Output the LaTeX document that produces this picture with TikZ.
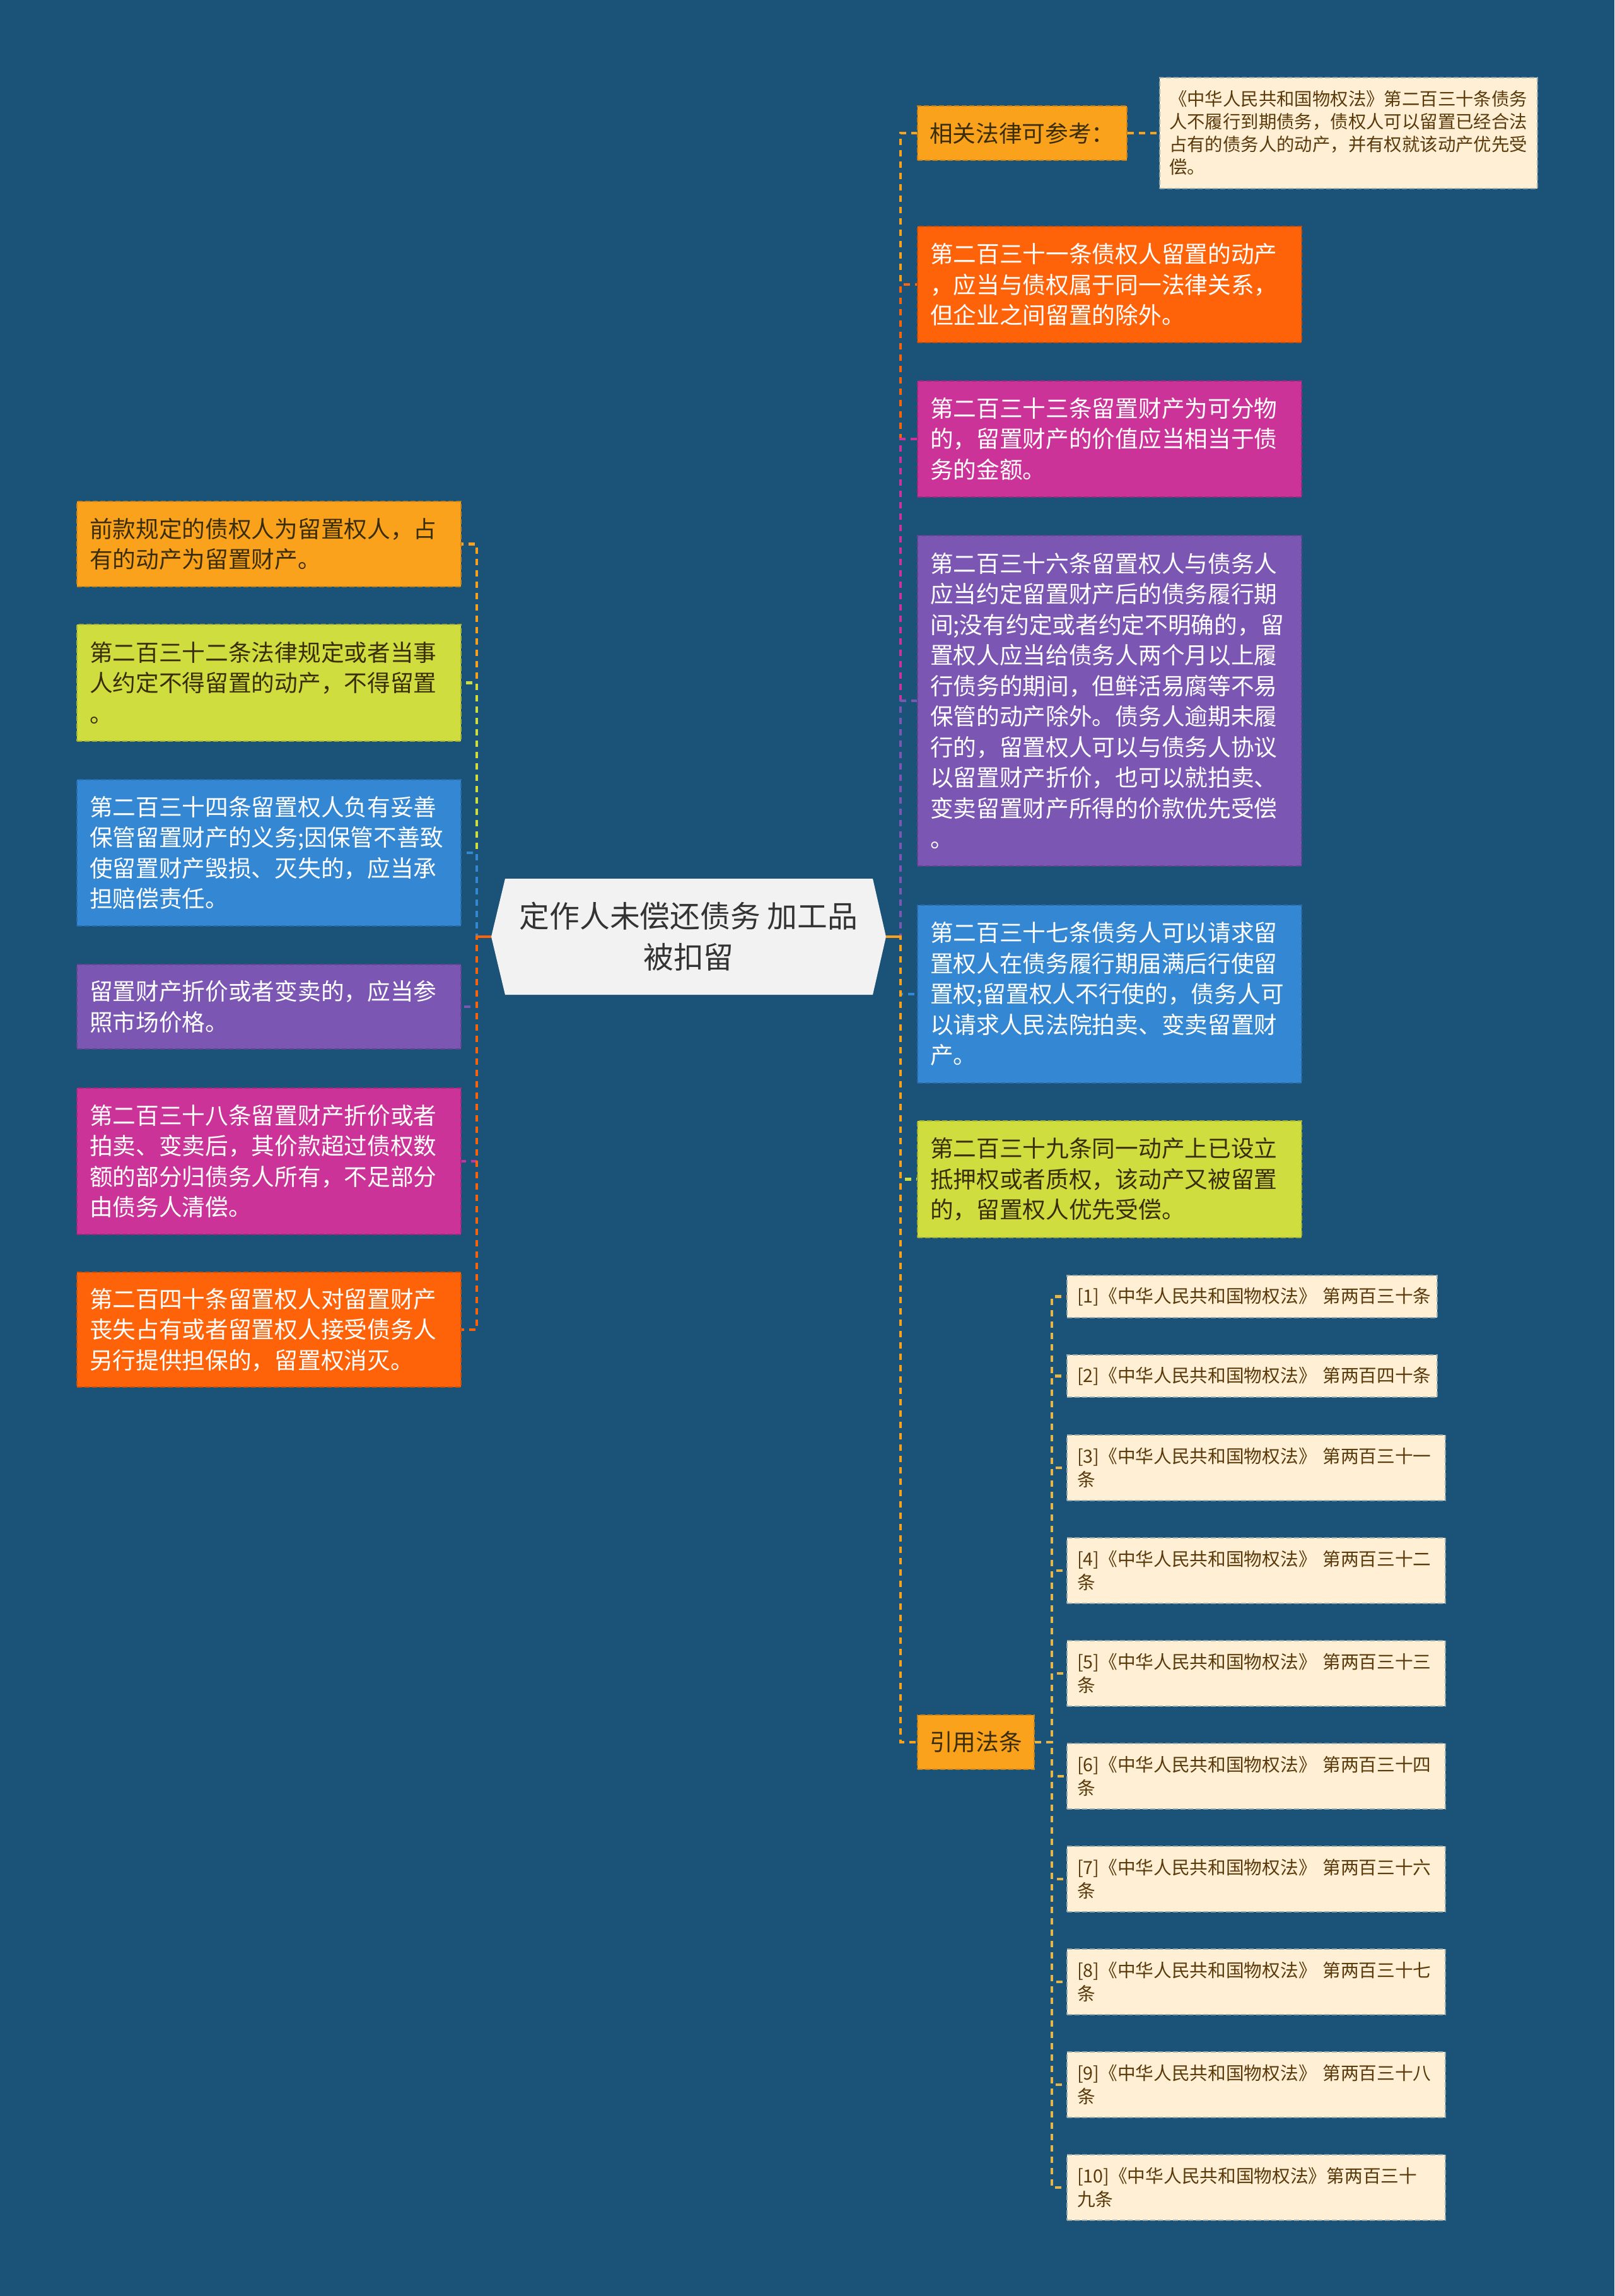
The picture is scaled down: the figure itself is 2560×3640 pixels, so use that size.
\documentclass[tikz,border=0pt]{standalone}
\usepackage{fontspec}
\setmainfont{Noto Sans CJK SC}
\definecolor{bgc}{HTML}{1A5377}
\definecolor{cO}{HTML}{FAA21C}
\definecolor{cY}{HTML}{CFDD3F}
\definecolor{cB}{HTML}{3487D3}
\definecolor{cP}{HTML}{7C56B3}
\definecolor{cM}{HTML}{CB3398}
\definecolor{cR}{HTML}{FF6309}
\definecolor{cream}{HTML}{FFEFD5}
\definecolor{gold}{HTML}{E6B547}
\definecolor{dk}{HTML}{3A2E0A}
\definecolor{brn}{HTML}{5A3A0A}
\definecolor{cfill}{HTML}{F2F2F2}
\definecolor{ctext}{HTML}{333333}
\begin{document}
\begin{tikzpicture}[x=1pt,y=-1pt,
  conn/.style={line width=4.5pt, dash pattern=on 10pt off 8pt},
  solidconn/.style={line width=4.5pt},
  bx/.style={rectangle, anchor=north west, inner xsep=20pt, inner ysep=0pt, align=left,
    text width=569pt, minimum width=609pt, font=\fontsize{36.7}{48.5}\selectfont,
    line width=2pt, dash pattern=on 8pt off 4pt},
  cit/.style={rectangle, anchor=north west, inner xsep=16pt, inner ysep=0pt, align=left,
    text width=555pt, fill=cream, draw=bgc!45!cream, text=brn,
    font=\fontsize{28.7}{37}\selectfont, line width=2pt, dash pattern=on 8pt off 4pt},
  citb/.style={cit, text width=568pt, minimum height=104pt},
]
\useasboundingbox (0,0) rectangle (2560,3640);
\fill[bgc] (0,0) rectangle (2560,3640);

% centre
\fill[cfill] (779,1485) -- (801,1393) -- (1384,1393) -- (1405,1485) -- (1384,1577) -- (801,1577) -- cycle;
\node[minimum width=626pt, minimum height=184pt, inner sep=0pt, align=center, text=ctext,
  font=\fontsize{47.8}{65}\selectfont] (c) at (1092,1485) {定作人未偿还债务 加工品\\被扣留};

% left
\node[bx, fill=cO, draw=cO!80!black, text=dk, minimum height=135pt] (L1) at (121,794)
  {前款规定的债权人为留置权人，占\\有的动产为留置财产。};
\node[bx, fill=cY, draw=cY!80!black, text=dk, minimum height=185pt] (L2) at (121,989)
  {第二百三十二条法律规定或者当事\\人约定不得留置的动产，不得留置\\。};
\node[bx, fill=cB, draw=cB!80!black, text=white, minimum height=232pt] (L3) at (121,1235)
  {第二百三十四条留置权人负有妥善\\保管留置财产的义务;因保管不善致\\使留置财产毁损、灭失的，应当承\\担赔偿责任。};
\node[bx, fill=cP, draw=cP!80!black, text=white, minimum height=134pt] (L4) at (121,1528)
  {留置财产折价或者变卖的，应当参\\照市场价格。};
\node[bx, fill=cM, draw=cM!80!black, text=white, minimum height=232pt] (L5) at (121,1724)
  {第二百三十八条留置财产折价或者\\拍卖、变卖后，其价款超过债权数\\额的部分归债务人所有，不足部分\\由债务人清偿。};
\node[bx, fill=cR, draw=cR!80!black, text=white, minimum height=182pt] (L6) at (121,2016)
  {第二百四十条留置权人对留置财产\\丧失占有或者留置权人接受债务人\\另行提供担保的，留置权消灭。};

% right
\node[bx, fill=cO, draw=cO!80!black, text=dk, minimum height=86pt, text width=294pt,
  minimum width=332pt, inner xsep=19pt] (R0) at (1454,167) {相关法律可参考：};
\node[rectangle, anchor=north west, inner xsep=15pt, inner ysep=0pt, align=left,
  text width=569pt, minimum height=176pt, fill=cream, draw=bgc!45!cream, text=brn,
  font=\fontsize{28.4}{36}\selectfont, line width=2pt, dash pattern=on 8pt off 4pt] (R0c) at (1838,122)
  {《中华人民共和国物权法》第二百三十条债务\\人不履行到期债务，债权人可以留置已经合法\\占有的债务人的动产，并有权就该动产优先受\\偿。};
\node[bx, fill=cR, draw=cR!80!black, text=white, minimum height=184pt] (R1) at (1454,358)
  {第二百三十一条债权人留置的动产\\，应当与债权属于同一法律关系，\\但企业之间留置的除外。};
\node[bx, fill=cM, draw=cM!80!black, text=white, minimum height=184pt] (R2) at (1454,603)
  {第二百三十三条留置财产为可分物\\的，留置财产的价值应当相当于债\\务的金额。};
\node[bx, fill=cP, draw=cP!80!black, text=white, minimum height=524pt] (R3) at (1454,848)
  {第二百三十六条留置权人与债务人\\应当约定留置财产后的债务履行期\\间;没有约定或者约定不明确的，留\\置权人应当给债务人两个月以上履\\行债务的期间，但鲜活易腐等不易\\保管的动产除外。债务人逾期未履\\行的，留置权人可以与债务人协议\\以留置财产折价，也可以就拍卖、\\变卖留置财产所得的价款优先受偿\\。};
\node[bx, fill=cB, draw=cB!80!black, text=white, minimum height=282pt] (R4) at (1454,1434)
  {第二百三十七条债务人可以请求留\\置权人在债务履行期届满后行使留\\置权;留置权人不行使的，债务人可\\以请求人民法院拍卖、变卖留置财\\产。};
\node[bx, fill=cY, draw=cY!80!black, text=dk, minimum height=185pt] (R5) at (1454,1776)
  {第二百三十九条同一动产上已设立\\抵押权或者质权，该动产又被留置\\的，留置权人优先受偿。};
\node[bx, fill=cO, draw=cO!80!black, text=dk, minimum height=86pt, text width=147pt,
  minimum width=185pt, inner xsep=19pt] (R6) at (1454,2718) {引用法条};

% citations
\node[cit, minimum height=67pt] (c1) at (1691,2021) {[1]《中华人民共和国物权法》~第两百三十条};
\node[cit, minimum height=67pt] (c2) at (1691,2147) {[2]《中华人民共和国物权法》~第两百四十条};
\node[citb] (c3) at (1691,2274) {[3]《中华人民共和国物权法》~第两百三十一\\条};
\node[citb] (c4) at (1691,2437) {[4]《中华人民共和国物权法》~第两百三十二\\条};
\node[citb] (c5) at (1691,2600) {[5]《中华人民共和国物权法》~第两百三十三\\条};
\node[citb] (c6) at (1691,2763) {[6]《中华人民共和国物权法》~第两百三十四\\条};
\node[citb] (c7) at (1691,2926) {[7]《中华人民共和国物权法》~第两百三十六\\条};
\node[citb] (c8) at (1691,3089) {[8]《中华人民共和国物权法》~第两百三十七\\条};
\node[citb] (c9) at (1691,3252) {[9]《中华人民共和国物权法》~第两百三十八\\条};
\node[citb] (c10) at (1691,3415) {[10]《中华人民共和国物权法》第两百三十\\九条};

% left connectors
\draw[conn, cO] (c.west) -- ++(-23,0) |- (L1.east);
\draw[conn, cY] (c.west) -- ++(-23,0) |- (L2.east);
\draw[conn, cB] (c.west) -- ++(-23,0) |- (L3.east);
\draw[conn, cP] (c.west) -- ++(-23,0) |- (L4.east);
\draw[conn, cM] (c.west) -- ++(-23,0) |- (L5.east);
\draw[conn, cR] (c.west) -- ++(-23,0) |- (L6.east);
\draw[solidconn, cR] (c.west) -- ++(-23,0);

% right connectors
\draw[conn, cO] (c.east) -- ++(23,0) |- (R0.west);
\draw[conn, cR] (c.east) -- ++(23,0) |- (R1.west);
\draw[conn, cM] (c.east) -- ++(23,0) |- (R2.west);
\draw[conn, cP] (c.east) -- ++(23,0) |- (R3.west);
\draw[conn, cB] (c.east) -- ++(23,0) |- (R4.west);
\draw[conn, cY] (c.east) -- ++(23,0) |- (R5.west);
\draw[conn, cO] (c.east) -- ++(23,0) |- (R6.west);
\draw[solidconn, cO] (c.east) -- ++(23,0);

\draw[conn, cO] (R0.east) -- (R0c.west);

\foreach \k in {1,...,10} {
  \draw[conn, gold] (R6.east) -- ++(27,0) |- (c\k.west);
}
\end{tikzpicture}
\end{document}
